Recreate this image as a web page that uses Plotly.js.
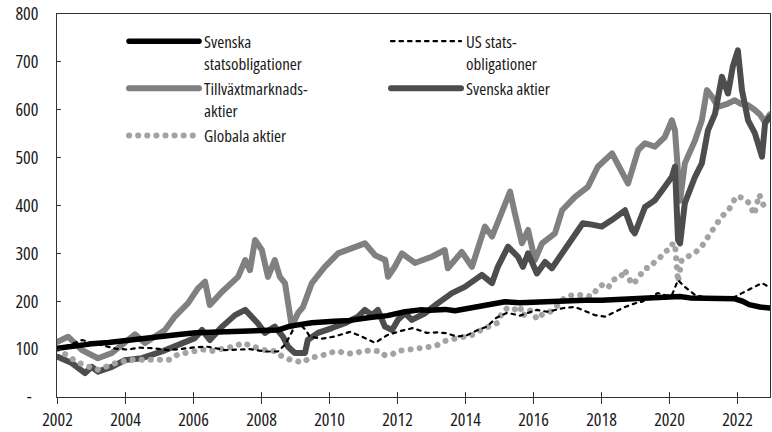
<!DOCTYPE html>
<html>
<head>
<meta charset="utf-8">
<script src="https://cdn.plot.ly/plotly-3.0.1.min.js"></script>
<style>
  html, body { margin: 0; padding: 0; background: #fff; }
  #chart { width: 772px; height: 432px; }
  text, tspan { font-stretch: 75% !important; }
  .js-line { stroke-linecap: round; stroke-linejoin: round; }
</style>
</head>
<body>
<div id="chart"></div>
<script>
// ---- Data (index) ----
var seNames = ['Svenska<br>statsobligationer', 'US stats-<br>obligationer', 'Tillväxtmarknads-<br>aktier', 'Svenska aktier', 'Globala aktier'];

var yearTicks = [2002, 2004, 2006, 2008, 2010, 2012, 2014, 2016, 2018, 2020, 2022];
var yearTickText = ['2002', '2004', '2006', '2008', '2010', '2012', '2014', '2016', '2018', '2020', '2022'];
var valueTicks = [0, 100, 200, 300, 400, 500, 600, 700, 800];
var valueTickText = ['-\u00a0\u00a0', '100', '200', '300', '400', '500', '600', '700', '800'];

// Svenska statsobligationer
var seBondX = [2002.0, 2002.5, 2003.0, 2003.5, 2004.04, 2004.5, 2005.07, 2005.5, 2006.07, 2006.5, 2007.22, 2007.7, 2008.1, 2008.5, 2008.84, 2009.2, 2009.48, 2010.13, 2010.6, 2011.19, 2011.7, 2012.22, 2012.66, 2012.95, 2013.4, 2013.69, 2014.0, 2014.42, 2014.8, 2015.16, 2015.6, 2016.34, 2016.9, 2017.51, 2018.0, 2018.54, 2019.0, 2019.57, 2020.0, 2020.3, 2020.6, 2021.2, 2021.92, 2022.15, 2022.34, 2022.66, 2022.95];
var seBondY = [102, 107, 111, 114, 119, 122, 127, 130, 134, 135, 136, 136, 138, 140, 148, 152, 155, 158, 160, 166, 170, 178, 182, 181, 183, 180, 184, 190, 195, 199, 197, 200, 201, 202, 202, 204, 206, 209, 208, 210, 207, 206, 205, 200, 193, 188, 186];

// US statsobligationer
var usBondX = [2002.0, 2002.25, 2002.51, 2002.72, 2003.0, 2003.39, 2003.7, 2004.07, 2004.4, 2004.78, 2005.25, 2005.6, 2006.04, 2006.42, 2006.92, 2007.3, 2007.66, 2008.1, 2008.48, 2008.7, 2008.84, 2009.0, 2009.13, 2009.3, 2009.42, 2009.78, 2010.13, 2010.6, 2010.9, 2011.34, 2011.69, 2012.1, 2012.45, 2012.86, 2013.2, 2013.45, 2013.75, 2014.04, 2014.3, 2014.63, 2014.9, 2015.22, 2015.6, 2016.1, 2016.4, 2016.63, 2016.9, 2017.22, 2017.5, 2017.81, 2018.11, 2018.4, 2018.69, 2019.0, 2019.19, 2019.45, 2019.66, 2019.9, 2020.07, 2020.25, 2020.45, 2020.75, 2021.13, 2021.5, 2021.92, 2022.13, 2022.31, 2022.5, 2022.72, 2022.85, 2022.95];
var usBondY = [100, 106, 113, 119, 114, 106, 101, 99, 103, 102, 98, 100, 104, 105, 98, 99, 100, 95, 95, 110, 130, 150, 152, 140, 126, 122, 126, 136, 128, 113, 129, 138, 144, 134, 135, 133, 126, 129, 138, 147, 165, 176, 170, 182, 178, 182, 186, 188, 180, 171, 168, 178, 188, 196, 199, 210, 217, 212, 213, 244, 230, 213, 207, 206, 209, 217, 223, 230, 238, 233, 228];

// Tillväxtmarknadsaktier
var emX = [2002.0, 2002.31, 2002.72, 2003.19, 2003.6, 2003.89, 2004.28, 2004.57, 2005.16, 2005.45, 2005.84, 2006.13, 2006.34, 2006.48, 2006.84, 2007.31, 2007.52, 2007.66, 2007.81, 2008.01, 2008.19, 2008.39, 2008.54, 2008.69, 2008.84, 2008.89, 2009.07, 2009.22, 2009.48, 2009.86, 2010.25, 2010.84, 2011.04, 2011.34, 2011.64, 2011.72, 2011.92, 2012.13, 2012.51, 2013.01, 2013.39, 2013.48, 2013.89, 2014.19, 2014.57, 2014.78, 2015.07, 2015.31, 2015.45, 2015.66, 2015.84, 2016.04, 2016.25, 2016.63, 2016.84, 2017.22, 2017.6, 2017.89, 2018.31, 2018.48, 2018.78, 2018.9, 2019.08, 2019.28, 2019.57, 2019.86, 2020.07, 2020.16, 2020.31, 2020.45, 2020.75, 2020.95, 2021.1, 2021.25, 2021.42, 2021.72, 2021.92, 2022.1, 2022.3, 2022.5, 2022.66, 2022.8, 2022.95];
var emY = [115, 126, 98, 81, 92, 108, 131, 113, 140, 168, 196, 227, 241, 192, 220, 251, 286, 265, 328, 307, 251, 286, 251, 238, 161, 147, 175, 188, 238, 272, 300, 317, 321, 296, 286, 251, 272, 300, 280, 293, 307, 269, 303, 272, 356, 335, 384, 429, 384, 321, 349, 286, 321, 342, 390, 418, 439, 481, 509, 488, 446, 474, 516, 530, 523, 543, 578, 557, 410, 488, 536, 578, 641, 627, 606, 613, 620, 612, 610, 600, 590, 575, 590];

// Svenska aktier
var seEqX = [2002.0, 2002.42, 2002.81, 2003.01, 2003.19, 2003.6, 2003.98, 2004.48, 2005.07, 2005.66, 2006.04, 2006.25, 2006.48, 2006.84, 2007.22, 2007.52, 2007.72, 2007.89, 2008.1, 2008.39, 2008.63, 2008.78, 2008.98, 2009.28, 2009.36, 2009.66, 2010.07, 2010.45, 2010.84, 2011.04, 2011.25, 2011.42, 2011.63, 2011.84, 2012.01, 2012.22, 2012.42, 2012.81, 2013.19, 2013.6, 2013.98, 2014.48, 2014.78, 2014.95, 2015.25, 2015.54, 2015.69, 2015.84, 2016.1, 2016.34, 2016.54, 2016.84, 2017.22, 2017.45, 2017.72, 2018.01, 2018.31, 2018.69, 2018.9, 2018.98, 2019.28, 2019.57, 2019.86, 2020.07, 2020.16, 2020.25, 2020.31, 2020.45, 2020.75, 2020.95, 2021.13, 2021.34, 2021.54, 2021.72, 2021.86, 2022.01, 2022.13, 2022.31, 2022.51, 2022.72, 2022.81, 2022.95];
var seEqY = [84, 71, 50, 63, 53, 63, 77, 81, 95, 113, 123, 140, 119, 147, 171, 182, 168, 154, 134, 147, 126, 105, 92, 92, 119, 134, 144, 154, 168, 182, 171, 182, 147, 140, 161, 175, 161, 175, 196, 217, 230, 255, 238, 272, 314, 293, 272, 300, 258, 282, 269, 300, 335, 363, 360, 356, 370, 390, 349, 342, 397, 411, 439, 460, 481, 328, 321, 405, 460, 488, 557, 592, 669, 634, 690, 724, 641, 578, 551, 502, 572, 585];

// Globala aktier
var glEqX = [2002.0, 2002.31, 2002.6, 2002.89, 2003.19, 2003.45, 2003.75, 2004.19, 2004.48, 2004.78, 2005.07, 2005.31, 2005.54, 2005.81, 2006.04, 2006.28, 2006.54, 2006.78, 2007.01, 2007.22, 2007.45, 2007.72, 2007.9, 2008.19, 2008.39, 2008.6, 2008.84, 2009.04, 2009.22, 2009.42, 2009.72, 2009.95, 2010.22, 2010.51, 2010.75, 2010.99, 2011.25, 2011.48, 2011.63, 2011.84, 2012.01, 2012.31, 2012.6, 2012.86, 2013.1, 2013.4, 2013.6, 2013.89, 2014.22, 2014.48, 2014.78, 2014.95, 2015.07, 2015.25, 2015.45, 2015.6, 2015.69, 2015.84, 2016.0, 2016.1, 2016.25, 2016.45, 2016.69, 2016.95, 2017.25, 2017.57, 2017.72, 2017.89, 2018.04, 2018.19, 2018.34, 2018.55, 2018.69, 2018.78, 2018.93, 2019.14, 2019.28, 2019.42, 2019.57, 2019.72, 2019.86, 2020.01, 2020.1, 2020.16, 2020.25, 2020.36, 2020.54, 2020.75, 2020.95, 2021.13, 2021.34, 2021.54, 2021.75, 2021.96, 2022.16, 2022.34, 2022.49, 2022.64, 2022.78, 2022.95];
var glEqY = [100, 85, 72, 64, 57, 64, 72, 78, 78, 78, 75, 78, 89, 93, 96, 99, 96, 101, 103, 106, 113, 106, 103, 96, 96, 85, 78, 75, 72, 82, 85, 91, 96, 91, 91, 97, 96, 96, 87, 89, 96, 99, 99, 103, 106, 117, 120, 127, 130, 141, 151, 155, 176, 187, 183, 190, 169, 183, 176, 162, 172, 176, 190, 210, 214, 210, 210, 228, 235, 228, 245, 249, 266, 249, 235, 255, 269, 270, 283, 291, 304, 308, 321, 321, 240, 287, 294, 301, 315, 336, 357, 377, 392, 419, 416, 405, 381, 423, 398, 405];

var fontFam = '"Open Sans", "DejaVu Sans Condensed", sans-serif';

var traces = [
  { x: emX, y: emY, name: seNames[2], legendrank: 3, mode: 'lines', line: { color: '#808080', width: 6 } },
  { x: seEqX, y: seEqY, name: seNames[3], legendrank: 4, mode: 'lines', line: { color: '#4d4d4d', width: 6 } },
  { x: glEqX, y: glEqY, name: seNames[4], legendrank: 5, mode: 'lines', line: { color: '#a3a3a3', width: 6, dash: '0.1px,9px' } },
  { x: seBondX, y: seBondY, name: seNames[0], legendrank: 1, mode: 'lines', line: { color: '#000000', width: 5.5 } },
  { x: usBondX, y: usBondY, name: seNames[1], legendrank: 2, mode: 'lines', line: { color: '#000000', width: 2.2, dash: '3.5px,5px' } },
  { x: [], y: [], xaxis: 'x2', showlegend: false, hoverinfo: 'skip', mode: 'lines' }
];

var xr = [2001.985, 2022.955];
var layout = {
  width: 772, height: 432,
  margin: { l: 57, r: 2, t: 14, b: 35, pad: 0 },
  paper_bgcolor: '#ffffff', plot_bgcolor: '#ffffff',
  font: { family: fontFam, size: 18, color: '#1a1a1a' },
  showlegend: true,
  legend: {
    orientation: 'h', x: 0.094, y: 0.975, xanchor: 'left', yanchor: 'top',
    bgcolor: 'rgba(0,0,0,0)', borderwidth: 0,
    entrywidth: 177, entrywidthmode: 'pixels',
    itemwidth: 70, valign: 'top', traceorder: 'normal',
    font: { family: fontFam, size: 17, color: '#1a1a1a' }
  },
  xaxis: {
    range: xr, tickvals: yearTicks, ticktext: yearTickText,
    ticks: 'outside', ticklen: 6, tickwidth: 1, tickcolor: '#333',
    showline: true, linecolor: '#333', linewidth: 1, mirror: true,
    showgrid: false, zeroline: false, fixedrange: true,
    ticklabelstandoff: 0,
    tickfont: { family: fontFam, size: 18, color: '#1a1a1a' }
  },
  xaxis2: {
    overlaying: 'x', range: xr, tickvals: yearTicks,
    ticks: 'inside', ticklen: 5, tickwidth: 1, tickcolor: '#333',
    showticklabels: false, showline: false, showgrid: false, zeroline: false, fixedrange: true
  },
  yaxis: {
    range: [0, 800], tickvals: valueTicks, ticktext: valueTickText,
    ticks: 'inside', ticklen: 4, tickwidth: 1, tickcolor: '#333',
    showline: true, linecolor: '#333', linewidth: 1, mirror: true,
    showgrid: false, zeroline: false, fixedrange: true,
    ticklabelstandoff: 14,
    tickfont: { family: fontFam, size: 18, color: '#1a1a1a' }
  }
};

Plotly.newPlot('chart', traces, layout, { staticPlot: true, displayModeBar: false });
</script>
</body>
</html>
